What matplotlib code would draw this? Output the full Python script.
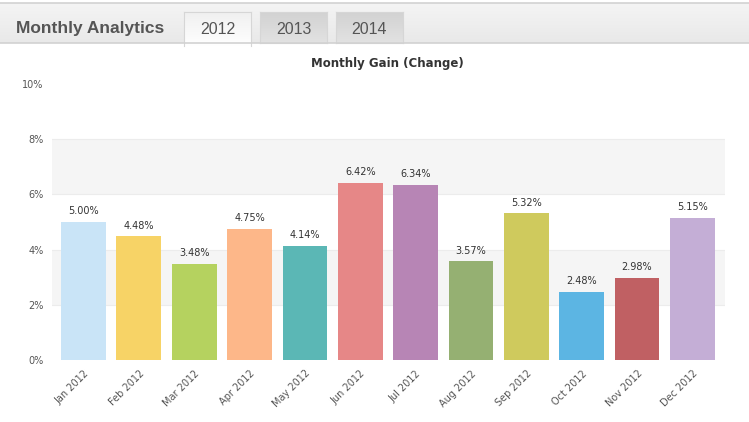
import matplotlib
matplotlib.use("Agg")
import matplotlib.pyplot as plt
from matplotlib.colors import LinearSegmentedColormap
import numpy as np

months = ["Jan 2012", "Feb 2012", "Mar 2012", "Apr 2012", "May 2012", "Jun 2012",
          "Jul 2012", "Aug 2012", "Sep 2012", "Oct 2012", "Nov 2012", "Dec 2012"]
gains = [5.00, 4.48, 3.48, 4.75, 4.14, 6.42, 6.34, 3.57, 5.32, 2.48, 2.98, 5.15]
colors = ["#c9e4f7", "#f7d366", "#b5d25f", "#fdb789", "#5bb7b5", "#e68787",
          "#b785b5", "#95b072", "#cfca5d", "#5cb5e3", "#c06063", "#c4aed6"]
yticks = [0, 2, 4, 6, 8, 10]
tabs = ["2012", "2013", "2014"]

W, H = 749, 422
fig = plt.figure(figsize=(W / 100, H / 100), dpi=100)
fig.patch.set_facecolor("white")

def fx(px):
    return px / W

def fy(py):
    return 1 - py / H

grad = np.linspace(0, 1, 50).reshape(-1, 1)

# header bar with gradient
hdr = fig.add_axes([0, fy(43), 1, fy(3) - fy(43)])
cm_hdr = LinearSegmentedColormap.from_list("h", ["#e9e9e9", "#f4f4f4"])
hdr.imshow(grad, aspect="auto", cmap=cm_hdr, extent=[0, 1, 0, 1], origin="lower")
hdr.set_xlim(0, 1); hdr.set_ylim(0, 1)
hdr.axis("off")
fig.add_artist(plt.Line2D([0, 1], [fy(3), fy(3)], color="#d2d2d2", lw=1.2))
fig.add_artist(plt.Line2D([0, 1], [fy(43), fy(43)], color="#d2d2d2", lw=1.2))

fig.text(fx(16), fy(28), "Monthly Analytics", fontsize=12.5, fontweight="bold",
         color="#555555", ha="left", va="center", family="Liberation Sans")

tab_x = [184, 260, 336]
for i, (t, x0) in enumerate(zip(tabs, tab_x)):
    active = i == 0
    y_bot = 46 if active else 43
    ax_t = fig.add_axes([fx(x0), fy(y_bot), fx(67), fy(12) - fy(y_bot)])
    if active:
        cmt = LinearSegmentedColormap.from_list("a", ["#ffffff", "#f0f0f0"])
    else:
        cmt = LinearSegmentedColormap.from_list("b", ["#e2e2e2", "#d2d2d2"])
    ax_t.imshow(grad, aspect="auto", cmap=cmt, extent=[0, 1, 0, 1], origin="lower")
    ax_t.set_xlim(0, 1); ax_t.set_ylim(0, 1)
    for s in ax_t.spines.values():
        s.set_color("#d6d6d6")
        s.set_linewidth(0.8)
    if active:
        ax_t.spines["bottom"].set_visible(False)
    ax_t.set_xticks([]); ax_t.set_yticks([])
    fig.text(fx(x0 + 33.5), fy(29), t, fontsize=11.5, color="#555555",
             ha="center", va="center", family="Liberation Sans")

# main chart
ax = fig.add_axes([fx(52), fy(360), fx(725) - fx(52), fy(84) - fy(360)])
x = np.arange(len(months))
ax.set_xlim(-0.57, 11.59)
ax.set_ylim(0, 10)
for lo, hi in [(2, 4), (6, 8)]:
    ax.axhspan(lo, hi, color="#f5f5f5", zorder=0, lw=0)
for yv in [2, 4, 6, 8]:
    ax.axhline(yv, color="#ececec", lw=0.8, zorder=0.5)

ax.bar(x, gains, width=0.81, color=colors, zorder=2, edgecolor="none")
for xi, g in zip(x, gains):
    ax.text(xi, g + 0.2, f"{g:.2f}%", ha="center", va="bottom", fontsize=7,
            color="#333333")

ax.set_yticks(yticks)
ax.set_yticklabels([f"{v}%" for v in yticks], fontsize=7, color="#555555")
ax.set_xticks(x)
ax.set_xticklabels(months, rotation=45, ha="right", rotation_mode="anchor",
                   fontsize=7, color="#555555")
ax.tick_params(axis="both", length=0, pad=6)
for s in ax.spines.values():
    s.set_visible(False)
ax.set_facecolor("none")

fig.text(fx(387), fy(64), "Monthly Gain (Change)", fontsize=8.5, fontweight="bold",
         color="#333333", ha="center", va="center")

fig.savefig("out.png", dpi=100, facecolor="white")
